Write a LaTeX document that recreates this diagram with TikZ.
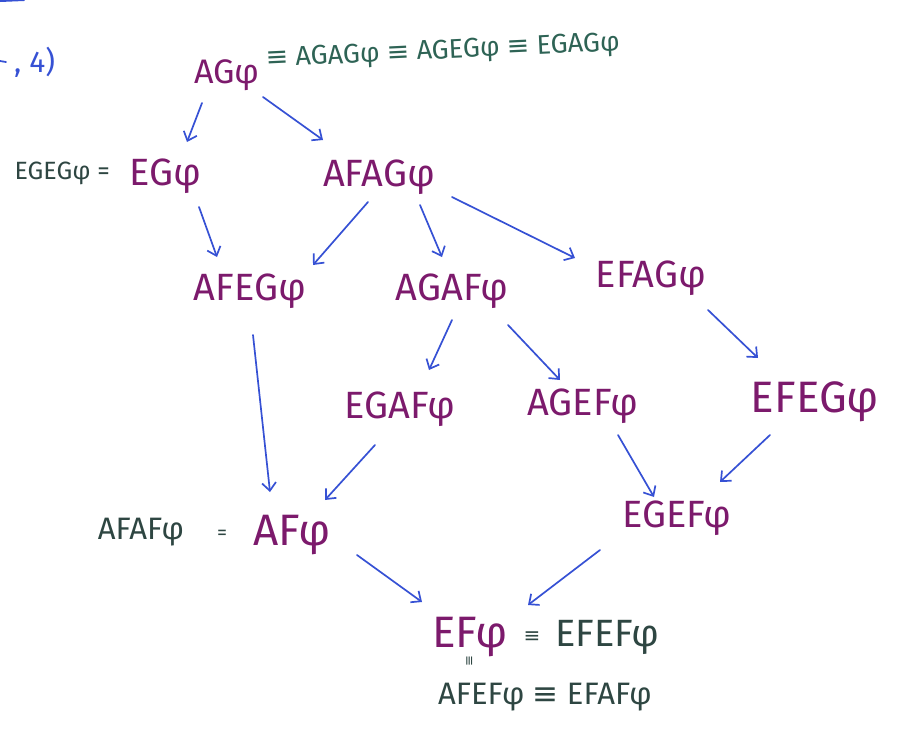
\documentclass[tikz,border=0pt]{standalone}
\usepackage{fontspec}
\setmainfont{Fira Sans}
\newfontfamily\symf{DejaVu Sans}
\usetikzlibrary{arrows.meta}
\definecolor{purp}{HTML}{7C1A6C}
\definecolor{dgreen}{HTML}{2E6355}
\definecolor{dark}{HTML}{2E4642}
\definecolor{blu}{HTML}{3651D4}
\newcommand{\eqv}{{\symf ≡}}
\begin{document}
\begin{tikzpicture}[x=1pt,y=-1pt,
  mainf/.style={text=purp, font=\fontsize{38}{40}\selectfont, anchor=base, inner sep=0pt},
  sidef/.style={text=dark, anchor=base, inner sep=0pt},
  arr/.style={draw=blu, line width=1.7pt, line cap=round,
    -{Straight Barb[length=8pt,width=14pt,line width=1.7pt]}}]
\useasboundingbox (0,0) rectangle (898,731);
% fragments at top left
\draw[blu, line width=2pt, line cap=round] (0,1) -- (24,0);
\draw[blu, line width=1.8pt, line cap=round] (0,61) -- (6,62);
\node[text=blu, font=\fontsize{30}{32}\selectfont, anchor=base west, inner sep=0pt] (prev) at (14,72) {, 4)};
% main formulas
\node[mainf, font=\fontsize{34}{36}\selectfont] (ag) at (227,83) {AGφ};
\node[sidef, text=dgreen, font=\fontsize{27}{28}\selectfont, anchor=base west, rotate=2.7] (agrest) at (266,67) {\eqv\ AGAGφ \eqv\ AGEGφ \eqv\ EGAGφ};
\node[mainf] (eg) at (165,185) {EGφ};
\node[sidef, font=\fontsize{25}{26}\selectfont, anchor=base east] (egeg) at (110,179) {EGEGφ =};
\node[mainf] (afag) at (379,186) {AFAGφ};
\node[mainf] (afeg) at (250,300) {AFEGφ};
\node[mainf] (agaf) at (452,300) {AGAFφ};
\node[mainf] (efag) at (651,287) {EFAGφ};
\node[mainf] (egaf) at (400,418) {EGAFφ};
\node[mainf] (agef) at (583,415) {AGEFφ};
\node[mainf, font=\fontsize{44}{46}\selectfont] (efeg) at (815,412) {EFEGφ};
\node[mainf, font=\fontsize{44}{46}\selectfont] (af) at (292,545) {AFφ};
\node[sidef, font=\fontsize{31}{32}\selectfont] (afaf) at (141,539) {AFAFφ};
\node[sidef, font=\fontsize{20}{22}\selectfont] (afeq) at (222,539) {=};
\node[mainf] (egef) at (677,527) {EGEFφ};
\node[mainf, font=\fontsize{44}{46}\selectfont] (ef) at (470,647) {EFφ};
\node[sidef, font=\fontsize{20}{22}\selectfont] (efeq) at (532,642) {\eqv};
\node[sidef, font=\fontsize{38}{40}\selectfont, anchor=base west] (efef) at (555,646) {EFEFφ};
\node[sidef, font=\fontsize{13}{14}\selectfont, rotate=90, anchor=center] (vq) at (470,661) {\eqv};
\node[sidef, font=\fontsize{31}{32}\selectfont] (afef) at (545,704) {AFEFφ \eqv\ EFAFφ};
% connectors
\draw[arr] ([shift={(-25,20)}]ag.base) -- ([shift={(22,-43)}]eg.base);
\draw[arr] ([shift={(36,14)}]ag.base) -- ([shift={(-56,-46)}]afag.base);
\draw[arr] ([shift={(34,22)}]eg.base) -- ([shift={(-33,-43)}]afeg.base);
\draw[arr] ([shift={(-11,16)}]afag.base) -- ([shift={(63,-35)}]afeg.base);
\draw[arr] ([shift={(41,19)}]afag.base) -- ([shift={(-10,-43)}]agaf.base);
\draw[arr] ([shift={(73,11)}]afag.base) -- ([shift={(-76,-29)}]efag.base);
\draw[arr] ([shift={(3,35)}]afeg.base) -- ([shift={(-22,-53)}]af.base);
\draw[arr] ([shift={(0,20)}]agaf.base) -- ([shift={(29,-48)}]egaf.base);
\draw[arr] ([shift={(56,25)}]agaf.base) -- ([shift={(-23,-35)}]agef.base);
\draw[arr] ([shift={(57,23)}]efag.base) -- ([shift={(-57,-54)}]efeg.base);
\draw[arr] ([shift={(-25,27)}]egaf.base) -- ([shift={(33,-45)}]af.base);
\draw[arr] ([shift={(35,20)}]agef.base) -- ([shift={(-23,-30)}]egef.base);
\draw[arr] ([shift={(-45,23)}]efeg.base) -- ([shift={(43,-45)}]egef.base);
\draw[arr] ([shift={(65,10)}]af.base) -- ([shift={(-48,-45)}]ef.base);
\draw[arr] ([shift={(-77,23)}]egef.base) -- ([shift={(58,-42)}]ef.base);
\end{tikzpicture}
\end{document}
